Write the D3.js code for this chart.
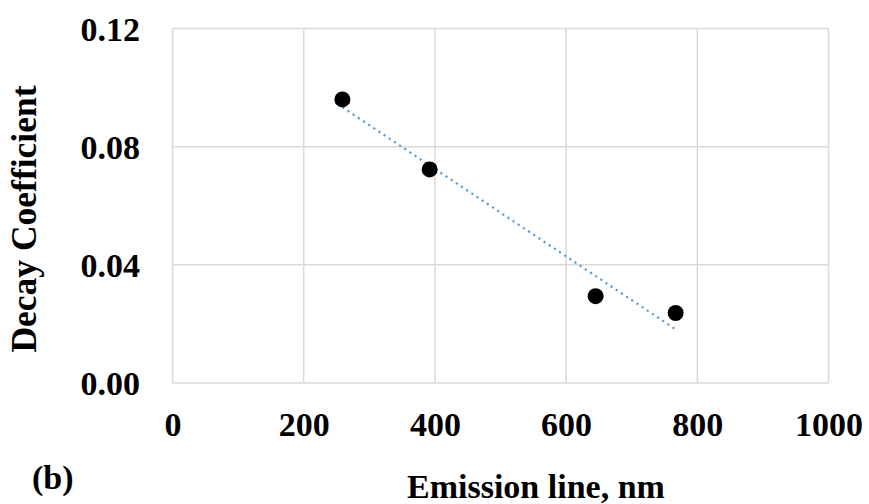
<!DOCTYPE html>
<html><head><meta charset="utf-8">
<script src="https://cdn.jsdelivr.net/npm/d3@7"></script>
<style>body{margin:0;background:#fff}svg{display:block}</style>
</head><body>
<script>
const emission = [259, 392, 645, 767];
const decay = [0.096, 0.0723, 0.0294, 0.0237];
const xTicks = [0, 200, 400, 600, 800, 1000];
const xTickLabels = ["0", "200", "400", "600", "800", "1000"];
const yTicks = [0, 0.04, 0.08, 0.12];
const yTickLabels = ["0.00", "0.04", "0.08", "0.12"];

const W = 869, H = 504;
const svg = d3.select("body").append("svg").attr("width", W).attr("height", H);
const x = d3.scaleLinear().domain([0, 1000]).range([172.5, 828.5]);
const y = d3.scaleLinear().domain([0, 0.12]).range([383, 28.5]);
const font = "'Liberation Serif','Times New Roman',serif";
const fs = 34;

// gridlines
svg.append("g").selectAll("line").data(xTicks).join("line")
  .attr("x1", d => x(d)).attr("x2", d => x(d)).attr("y1", y(0.12)).attr("y2", y(0))
  .attr("stroke", "#d9d9d9").attr("stroke-width", 1.5);
svg.append("g").selectAll("line").data(yTicks).join("line")
  .attr("x1", x(0)).attr("x2", x(1000)).attr("y1", d => y(d)).attr("y2", d => y(d))
  .attr("stroke", "#d9d9d9").attr("stroke-width", 1.5);

// axes labels
const xAxis = d3.axisBottom(x).tickValues(xTicks).tickSize(0).tickPadding(0)
  .tickFormat((d, i) => xTickLabels[i]);
const gx = svg.append("g").attr("transform", `translate(0,${y(0)})`).call(xAxis);
gx.select(".domain").remove();
gx.selectAll("text").attr("dy", null).attr("y", 53).attr("font-family", font)
  .attr("font-weight", "bold").attr("font-size", fs).attr("fill", "#000");

const yAxis = d3.axisLeft(y).tickValues(yTicks).tickSize(0).tickPadding(0)
  .tickFormat((d, i) => yTickLabels[i]);
const gy = svg.append("g").attr("transform", `translate(140,0)`).call(yAxis);
gy.select(".domain").remove();
gy.selectAll("text").attr("x", 0).attr("dy", "0.34em").attr("font-family", font)
  .attr("font-weight", "bold").attr("font-size", fs).attr("fill", "#000");

// trendline (least squares fit of the data)
const mx = d3.mean(emission), my = d3.mean(decay);
const slope = d3.sum(emission.map((v, i) => (v - mx) * (decay[i] - my))) /
              d3.sum(emission.map(v => (v - mx) ** 2));
const icpt = my - slope * mx;
const ext = d3.extent(emission);
svg.append("line")
  .attr("x1", x(ext[0])).attr("y1", y(icpt + slope * ext[0]))
  .attr("x2", x(ext[1])).attr("y2", y(icpt + slope * ext[1]))
  .attr("stroke", "#5b9bd5").attr("stroke-width", 2.2)
  .attr("stroke-dasharray", "2.2 4").attr("stroke-linecap", "butt");

// points
svg.append("g").selectAll("circle").data(emission).join("circle")
  .attr("cx", d => x(d)).attr("cy", (d, i) => y(decay[i])).attr("r", 8)
  .attr("fill", "#000");

// titles
svg.append("text").attr("x", 407).attr("y", 498)
  .attr("font-family", font).attr("font-weight", "bold").attr("font-size", fs)
  .text("Emission line, nm");
svg.append("text").attr("transform", `translate(36,219) rotate(-90)`).attr("text-anchor", "middle")
  .attr("font-family", font).attr("font-weight", "bold").attr("font-size", 35.5)
  .text("Decay Coefficient");
svg.append("text").attr("x", 32).attr("y", 489)
  .attr("font-family", font).attr("font-weight", "bold").attr("font-size", fs)
  .text("(b)");
</script>
</body></html>
